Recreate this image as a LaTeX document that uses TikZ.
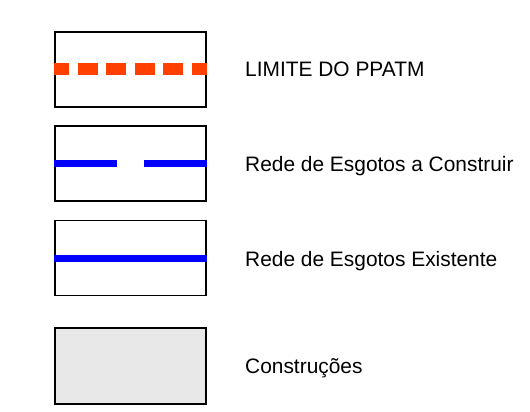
\documentclass[tikz,border=0pt]{standalone}
\usepackage{fontspec}
\setmainfont{Liberation Sans}
\definecolor{limred}{HTML}{FF4000}
\definecolor{sewblue}{HTML}{0000FF}
\definecolor{buildgray}{HTML}{E8E8E8}
\begin{document}
\begin{tikzpicture}[x=1pt,y=-1pt,
  legbox/.style={draw=black,line width=1.2pt,inner sep=0pt,minimum width=151pt,minimum height=75pt},
  legtext/.style={anchor=base west,inner sep=0pt,font=\fontsize{20.9}{25}\selectfont},
  limline/.style={draw=limred,line width=12pt,dash pattern=on 20pt off 8.5pt,dash phase=5pt},
  newline/.style={draw=sewblue,line width=6.5pt,dash pattern=on 63pt off 27pt},
  oldline/.style={draw=sewblue,line width=7pt}]
\useasboundingbox (0,0) rectangle (530,412);
\node[legbox] (b1) at (130.5,69.5) {};
\node[legbox] (b2) at (130.5,163.5) {};
\node[legbox] (b3) at (130.5,258) {};
\node[legbox,fill=buildgray,minimum height=76pt] (b4) at (130.5,366) {};
\draw[limline] (b1.west) -- (b1.east);
\draw[newline] (b2.west) -- (b2.east);
\draw[oldline] (b3.west) -- (b3.east);
\node[legtext] (t1) at (245,77) {LIMITE DO PPATM};
\node[legtext] (t2) at (245,171.5) {Rede de Esgotos a Construir};
\node[legtext] (t3) at (245,266.5) {Rede de Esgotos Existente};
\node[legtext] (t4) at (245,373) {Construções};
\end{tikzpicture}
\end{document}
